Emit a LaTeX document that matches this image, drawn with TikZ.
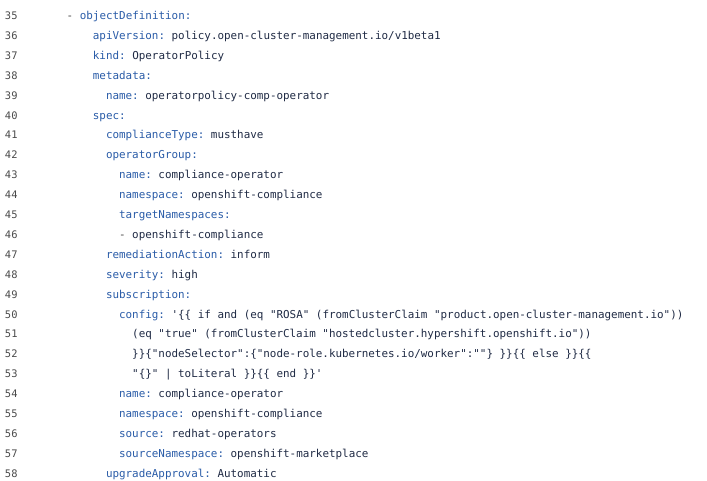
\documentclass[tikz,border=0pt]{standalone}
\usepackage{fontspec}
\setmonofont{DejaVu Sans Mono}
\definecolor{keyc}{HTML}{2A5CA8}
\definecolor{valc}{HTML}{202B45}
\definecolor{numc}{HTML}{4A4A4A}
\newcommand{\K}[1]{\textcolor{keyc}{#1}}
\begin{document}
\begin{tikzpicture}[x=1pt,y=-1pt,
  codeline/.style={anchor=base west,inner sep=0pt,outer sep=0pt,text=valc,font=\ttfamily\fontsize{10.9}{12}\selectfont},
  lineno/.style={anchor=base west,inner sep=0pt,outer sep=0pt,text=numc,font=\ttfamily\fontsize{10.4}{12}\selectfont}]
\fill[white] (0,0) rectangle (707,480);
\useasboundingbox (0,0) rectangle (707,480);
\def\xo{66.7}
\def\cw{6.55}
\def\yo{19.5}
\def\lh{19.9}
% line numbers
\foreach \k in {35,...,58}{
  \node[lineno] (n\k) at (5,{\yo+\lh*(\k-35)}) {\k};
}
\newcommand{\cl}[3]{\node[codeline] (l#1) at ({\xo+\cw*#2},{\yo+\lh*(#1-35)}) {#3};}
\cl{35}{0}{\textcolor{numc}{-} \K{objectDefinition:}}
\cl{36}{4}{\K{apiVersion:} policy.open-cluster-management.io/v1beta1}
\cl{37}{4}{\K{kind:} OperatorPolicy}
\cl{38}{4}{\K{metadata:}}
\cl{39}{6}{\K{name:} operatorpolicy-comp-operator}
\cl{40}{4}{\K{spec:}}
\cl{41}{6}{\K{complianceType:} musthave}
\cl{42}{6}{\K{operatorGroup:}}
\cl{43}{8}{\K{name:} compliance-operator}
\cl{44}{8}{\K{namespace:} openshift-compliance}
\cl{45}{8}{\K{targetNamespaces:}}
\cl{46}{8}{\textcolor{numc}{-} openshift-compliance}
\cl{47}{6}{\K{remediationAction:} inform}
\cl{48}{6}{\K{severity:} high}
\cl{49}{6}{\K{subscription:}}
\cl{50}{8}{\K{config:} '\{\{ if and (eq "ROSA" (fromClusterClaim "product.open-cluster-management.io"))}
\cl{51}{10}{(eq "true" (fromClusterClaim "hostedcluster.hypershift.openshift.io"))}
\cl{52}{10}{\}\}\{"nodeSelector":\{"node-role.kubernetes.io/worker":""\} \}\}\{\{ else \}\}\{\{}
\cl{53}{10}{"\{\}" | toLiteral \}\}\{\{ end \}\}'}
\cl{54}{8}{\K{name:} compliance-operator}
\cl{55}{8}{\K{namespace:} openshift-compliance}
\cl{56}{8}{\K{source:} redhat-operators}
\cl{57}{8}{\K{sourceNamespace:} openshift-marketplace}
\cl{58}{6}{\K{upgradeApproval:} Automatic}
\end{tikzpicture}
\end{document}
